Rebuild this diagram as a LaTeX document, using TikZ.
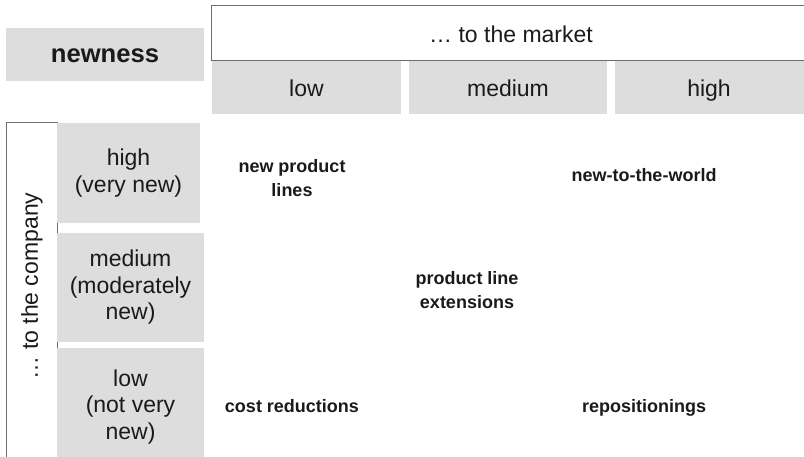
\documentclass[tikz,border=0pt]{standalone}
\usepackage{fontspec}
\setmainfont{Liberation Sans}
\usetikzlibrary{positioning}
\definecolor{hdrgray}{HTML}{DDDDDD}
\definecolor{framegray}{HTML}{6E6E6E}
\definecolor{txtblack}{HTML}{1A1A1A}
\newcommand{\regfont}{\fontsize{23}{26.5}\selectfont}
\newcommand{\lblfont}{\fontsize{18}{24}\selectfont}
\tikzset{
  hdr/.style   = {fill=hdrgray, inner sep=0pt, align=center,
                  font=\regfont, text=txtblack},
  frm/.style   = {draw=framegray, line width=1pt, inner sep=0pt},
  axlab/.style = {inner sep=0pt, font=\regfont, text=txtblack},
  cell/.style  = {inner sep=0pt, align=center,
                  font=\lblfont\bfseries, text=txtblack},
}

\begin{document}
\begin{tikzpicture}[x=1pt,y=-1pt]
  \useasboundingbox (0,0) rectangle (804,457);
  \clip (0,0) rectangle (804,457);
  % corner label
  \node[hdr, minimum width=198, minimum height=53] (newness) at (105,54.5) {};
  \node[axlab, anchor=base, font=\fontsize{25.6}{30}\selectfont\bfseries]
       (newnesstxt) at (105,63) {newness};
  % market axis
  \node[frm, minimum width=600, minimum height=55] (market) at (511,33.5) {};
  \node[axlab, anchor=base] (markettxt) at (511,42.5) {… to the market};
  \node[hdr, minimum width=189, minimum height=53] (mlow)  at (306.5,87.5) {};
  \node[hdr, minimum width=198, minimum height=53] (mmed)  at (508,87.5)   {};
  \node[hdr, minimum width=195, minimum height=53] (mhigh) at (712.5,87.5) {};
  \node[axlab, anchor=base] (mlowtxt)  at (306.5,97) {low};
  \node[axlab, anchor=base] (mmedtxt)  at (508,97)   {medium};
  \node[axlab, anchor=base] (mhightxt) at (709,97)   {high};
  % company axis
  \node[frm, minimum width=51, minimum height=360] (company) at (31.5,303) {};
  \node[axlab, rotate=90] (companytxt) at (32,286) {… to the company};
  \node[hdr, minimum width=143, minimum height=100] (chigh) at (128.5,173) {high\\(very new)};
  \node[hdr, minimum width=147, minimum height=109] (cmed)  at (130.5,287.5) {medium\\(moderately\\new)};
  \node[hdr, minimum width=147, minimum height=118] (clow)  at (130.5,407) {low\\(not very\\new)};
  % matrix entries
  \node[cell] (newlines)   at (292,178) {new product\\lines};
  \node[cell] (extensions) at (467,290) {product line\\extensions};
  \node[cell, anchor=base] (newworld) at (644,182)   {new-to-the-world};
  \node[cell, anchor=base] (costred)  at (292,412.5) {cost reductions};
  \node[cell, anchor=base] (reposit)  at (644,412.5) {repositionings};
\end{tikzpicture}
\end{document}
